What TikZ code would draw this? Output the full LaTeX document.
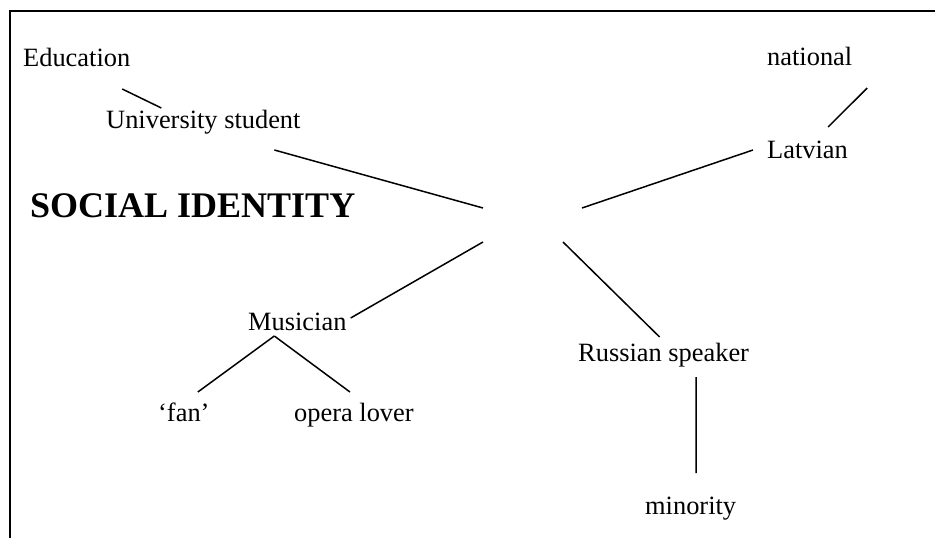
\documentclass[tikz,border=0pt]{standalone}
\usepackage{fontspec}
\setmainfont{Liberation Serif}

\begin{document}
\begin{tikzpicture}[
    x=1pt, y=-1pt,
    word/.style={anchor=base west, inner sep=0pt, font=\fontsize{26.4}{30}\selectfont},
    title/.style={anchor=base west, inner sep=0pt, font=\fontsize{36}{40}\selectfont\bfseries},
    link/.style={line width=1.5pt},
    frame/.style={line width=2pt}
]

\useasboundingbox (0,0) rectangle (935,538);
\draw[frame] (9.5,538) -- (9.5,10.5) -- (935,10.5);

\node[word] (edu) at (23,66) {Education};
\node[word] (univ) at (106,128) {University student};
\node[title] (social) at (30,217) {SOCIAL IDENTITY};
\node[word] (nat) at (767,65) {national};
\node[word] (lat) at (767,158) {Latvian};
\node[word] (mus) at (248,330) {Musician};
\node[word] (fan) at (158,421) {‘fan’};
\node[word] (opera) at (294,421) {opera lover};
\node[word] (rus) at (578,361) {Russian speaker};
\node[word] (min) at (645,514) {minority};

\coordinate (hubnw) at (483,208);
\coordinate (hubne) at (582,208);
\coordinate (hubsw) at (483,242);
\coordinate (hubse) at (563,242);

\draw[link] ([shift={(45.5,23)}]edu.base) -- ([shift={(-42,-20)}]univ.base);
\draw[link] ([shift={(71,22)}]univ.base) -- (hubnw);
\draw[link] (hubne) -- ([shift={(-14,-8)}]lat.base west);
\draw[link] ([shift={(20.6,-31)}]lat.base) -- ([shift={(57.5,23)}]nat.base);
\draw[link] (hubsw) -- ([shift={(4,-12)}]mus.base east);
\draw[link] ([shift={(-23,6)}]mus.base) -- ([shift={(14,-29)}]fan.base);
\draw[link] ([shift={(-23,6)}]mus.base) -- ([shift={(-4,-29)}]opera.base);
\draw[link] (hubse) -- ([shift={(-4,-24)}]rus.base);
\draw[link] ([shift={(32.6,16)}]rus.base) -- ([shift={(5.5,-41)}]min.base);

\end{tikzpicture}
\end{document}
